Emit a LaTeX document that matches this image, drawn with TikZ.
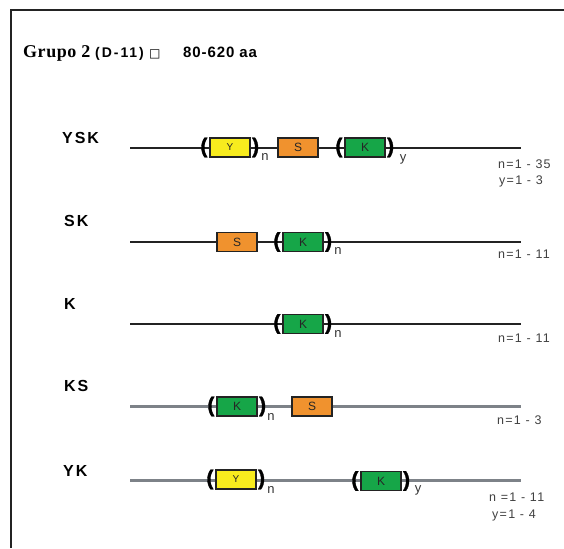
\documentclass[tikz,border=0pt]{standalone}
\usepackage{fontspec}
\setmainfont{Liberation Sans}
\newfontfamily\titleserif{Liberation Serif}
\newfontfamily\symfont{DejaVu Sans}
\newfontfamily\parenfont[FakeBold=1.5]{Liberation Sans Bold}
\definecolor{domyellow}{RGB}{248,236,30}
\definecolor{domorange}{RGB}{240,146,46}
\definecolor{domgreen}{RGB}{22,166,72}
\definecolor{linegray}{RGB}{125,130,136}
\definecolor{ink}{RGB}{35,35,35}
\begin{document}
\begin{tikzpicture}[x=1pt,y=-1pt,
  frame/.style={line width=2.4pt, draw=ink},
  chain/.style={line width=2pt, draw=ink},
  chaingray/.style={line width=2.2pt, draw=linegray},
  dom/.style={draw=ink, line width=1.7pt, minimum width=40pt, minimum height=19pt,
    inner sep=0pt, text=black!85, font=\fontsize{12}{12}\selectfont},
  ydom/.style={dom, fill=domyellow, font=\fontsize{10}{10}\selectfont},
  sdom/.style={dom, fill=domorange},
  kdom/.style={dom, fill=domgreen},
  paren/.style={inner sep=0pt, font=\parenfont\fontsize{21}{21}\selectfont},
  sub/.style={inner sep=0pt, text=black!80, font=\fontsize{13}{13}\selectfont},
  rowlabel/.style={anchor=west, inner sep=0pt,
    font=\fontsize{16}{16}\selectfont\bfseries\addfontfeature{LetterSpace=12}},
  count/.style={anchor=west, inner sep=0pt, text=black!75,
    font=\fontsize{12.5}{12.5}\selectfont\addfontfeature{LetterSpace=10}}
]
\useasboundingbox (0,0) rectangle (564,548);

% frame
\draw[frame] (11,548) -- (11,10) -- (564,10);

% heading
\node[anchor=base west, inner sep=0pt,
  font=\titleserif\fontsize{18}{18}\selectfont\bfseries\addfontfeature{LetterSpace=3}]
  (grp) at (23,58) {Grupo 2};
\node[anchor=base west, inner sep=0pt,
  font=\fontsize{14}{14}\selectfont\bfseries\addfontfeature{LetterSpace=14}]
  (dom11) at (95,58) {(D-11)};
\node[anchor=base west, inner sep=0pt, font=\symfont\fontsize{12}{12}\selectfont]
  (sq) at (149,58) {□};
\node[anchor=base west, inner sep=0pt,
  font=\fontsize{15}{15}\selectfont\bfseries\addfontfeature{LetterSpace=6}]
  (len) at (183,58) {80-620 aa};

% ---- YSK ----
\node[rowlabel] (lysk) at (62,137.5) {YSK};
\coordinate (ysk-a) at (130,148);
\coordinate (ysk-b) at (521,148);
\draw[chain] (ysk-a) -- (ysk-b);
\node[ydom] (ysk-y) at (230,147.5) {Y};
\node[paren, anchor=east] (ysk-y1) at ([xshift=-1.5pt]ysk-y.west) {(};
\node[paren, anchor=west] (ysk-y2) at ([xshift=1pt]ysk-y.east) {)};
\node[sub] (ysk-n) at (265,157) {n};
\node[sdom] (ysk-s) at (298,147.5) {S};
\node[kdom] (ysk-k) at (365,147.5) {K};
\node[paren, anchor=east] (ysk-k1) at ([xshift=-1.5pt]ysk-k.west) {(};
\node[paren, anchor=west] (ysk-k2) at ([xshift=1pt]ysk-k.east) {)};
\node[sub] (ysk-yy) at (403,159) {y};
\node[count] (ysk-c1) at (498,164.5) {n=1 - 35};
\node[count] (ysk-c2) at (499,181) {y=1 - 3};

% ---- SK ----
\node[rowlabel] (lsk) at (64,221) {SK};
\coordinate (sk-a) at (130,242);
\coordinate (sk-b) at (521,242);
\draw[chain] (sk-a) -- (sk-b);
\node[sdom] (sk-s) at (237,242) {S};
\node[kdom] (sk-k) at (303,242) {K};
\node[paren, anchor=east] (sk-k1) at ([xshift=-1.5pt]sk-k.west) {(};
\node[paren, anchor=west] (sk-k2) at ([xshift=1pt]sk-k.east) {)};
\node[sub] (sk-n) at (338,251.5) {n};
\node[count] (sk-c1) at (498,254) {n=1 - 11};

% ---- K ----
\node[rowlabel] (lk) at (64,304) {K};
\coordinate (k-a) at (130,324);
\coordinate (k-b) at (521,324);
\draw[chain] (k-a) -- (k-b);
\node[kdom] (k-k) at (303,324) {K};
\node[paren, anchor=east] (k-k1) at ([xshift=-1.5pt]k-k.west) {(};
\node[paren, anchor=west] (k-k2) at ([xshift=1pt]k-k.east) {)};
\node[sub] (k-n) at (338,333.5) {n};
\node[count] (k-c1) at (498,338) {n=1 - 11};

% ---- KS ----
\node[rowlabel] (lks) at (64,386) {KS};
\coordinate (ks-a) at (130,406.5);
\coordinate (ks-b) at (521,406.5);
\draw[chaingray] (ks-a) -- (ks-b);
\node[kdom] (ks-k) at (237,406.5) {K};
\node[paren, anchor=east] (ks-k1) at ([xshift=-1.5pt]ks-k.west) {(};
\node[paren, anchor=west] (ks-k2) at ([xshift=1pt]ks-k.east) {)};
\node[sub] (ks-n) at (271,416.5) {n};
\node[sdom] (ks-s) at (312,406.5) {S};
\node[count] (ks-c1) at (497,420.5) {n=1 - 3};

% ---- YK ----
\node[rowlabel] (lyk) at (63,471) {YK};
\coordinate (yk-a) at (130,480.5);
\coordinate (yk-b) at (521,480.5);
\draw[chaingray] (yk-a) -- (yk-b);
\node[ydom] (yk-y) at (236,479.5) {Y};
\node[paren, anchor=east] (yk-y1) at ([xshift=-1.5pt]yk-y.west) {(};
\node[paren, anchor=west] (yk-y2) at ([xshift=1pt]yk-y.east) {)};
\node[sub] (yk-n) at (271,489.5) {n};
\node[kdom] (yk-k) at (381,481) {K};
\node[paren, anchor=east] (yk-k1) at ([xshift=-1.5pt]yk-k.west) {(};
\node[paren, anchor=west] (yk-k2) at ([xshift=1pt]yk-k.east) {)};
\node[sub] (yk-yy) at (418,490) {y};
\node[count] (yk-c1) at (489,497.5) {n =1 - 11};
\node[count] (yk-c2) at (492,515) {y=1 - 4};
\end{tikzpicture}
\end{document}
